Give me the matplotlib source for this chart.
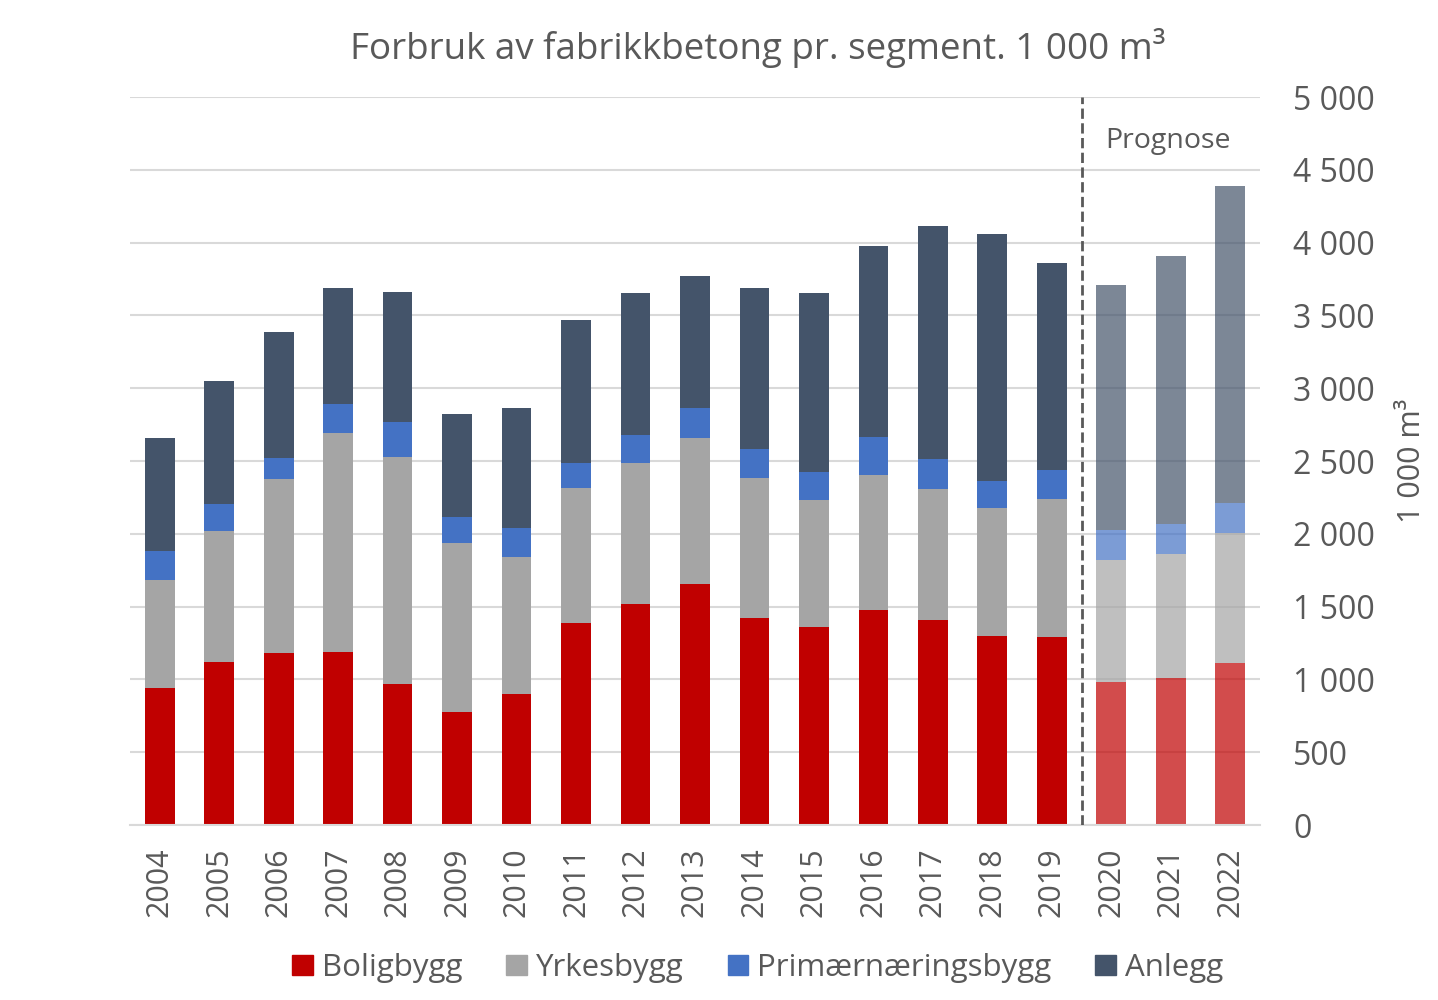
import matplotlib.pyplot as plt
from matplotlib.patches import Patch
from matplotlib.ticker import FuncFormatter
import numpy as np

years = [str(y) for y in range(2004, 2023)]
boligbygg = [941, 1120, 1181, 1188, 968, 776, 900, 1387, 1518, 1655, 1422, 1360, 1477, 1408, 1298, 1291, 982, 1010, 1113]
yrkesbygg = [742, 899, 1195, 1504, 1559, 1161, 941, 928, 968, 1003, 961, 872, 927, 900, 879, 948, 838, 851, 892]
primaer = [199, 186, 145, 199, 241, 178, 199, 171, 193, 206, 199, 192, 261, 206, 186, 199, 206, 206, 206]
anlegg = [776, 844, 865, 797, 893, 708, 824, 982, 975, 907, 1106, 1230, 1312, 1600, 1696, 1422, 1683, 1841, 2178]
n_forecast = 3

names = ["Boligbygg", "Yrkesbygg", "Primærnæringsbygg", "Anlegg"]
colors = ["#C00000", "#A5A5A5", "#4472C4", "#44546A"]
txt = "#595959"

plt.rcParams['font.family'] = ['Open Sans', 'DejaVu Sans']

fig = plt.figure(figsize=(14.38, 10), dpi=100)
ax = fig.add_axes([0.0904, 0.175, 0.7858, 0.728])

x = np.arange(len(years))
n_hist = len(years) - n_forecast
bottom = np.zeros(len(years))
for vals, c in zip([boligbygg, yrkesbygg, primaer, anlegg], colors):
    vals = np.array(vals, dtype=float)
    # historic bars solid, forecast bars faded
    ax.bar(x[:n_hist], vals[:n_hist], 0.5, bottom=bottom[:n_hist], color=c, zorder=2)
    ax.bar(x[n_hist:], vals[n_hist:], 0.5, bottom=bottom[n_hist:], color=c, alpha=0.7, zorder=2)
    bottom += vals

ax.set_xlim(-0.5, len(years) - 0.5)
ax.set_ylim(0, 5000)
ax.set_yticks(range(0, 5001, 500))
ax.yaxis.set_major_formatter(FuncFormatter(lambda v, p: f"{int(v):,}".replace(",", " ")))
ax.yaxis.tick_right()
ax.yaxis.set_label_position("right")
ax.grid(axis='y', color='#D9D9D9', lw=1.5, zorder=0)
for s in ['top', 'left', 'right']:
    ax.spines[s].set_visible(False)
ax.spines['bottom'].set_color('#D9D9D9')
ax.spines['bottom'].set_linewidth(1.5)
ax.tick_params(axis='both', length=0, colors=txt)
ax.tick_params(axis='y', pad=24, labelsize=23)
ax.tick_params(axis='x', pad=16, labelsize=22)
ax.set_xticks(x)
ax.set_xticklabels(years, rotation=90)
ax.set_ylabel("1 000 m³", color=txt, fontsize=22, labelpad=16)

ax.axvline(n_hist - 0.5, color='#595959', ls='--', lw=2, zorder=3)
ax.text(n_hist + 0.95, 4700, "Prognose", ha='center', va='center', color=txt, fontsize=20.5)

fig.text(0.527, 0.952, "Forbruk av fabrikkbetong pr. segment. 1 000 m³", ha='center', va='center',
         color=txt, fontsize=26.5)

handles = [Patch(color=c) for c in colors]
fig.legend(handles, names, loc='center', bbox_to_anchor=(0.527, 0.032), ncol=4, frameon=False,
           fontsize=22.5, labelcolor=txt, handlelength=0.65, handleheight=0.65, handletextpad=0.3,
           columnspacing=1.4)

fig.savefig("out.png", dpi=100)
